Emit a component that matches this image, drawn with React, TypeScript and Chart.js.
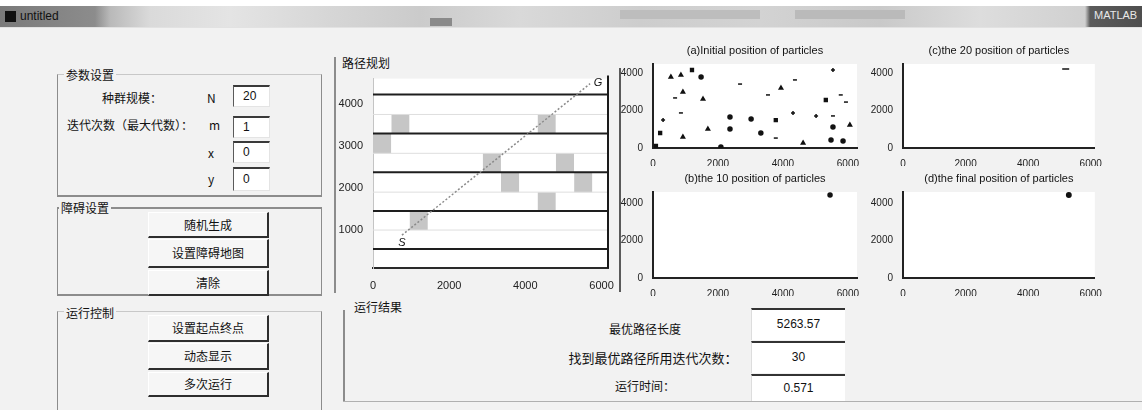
import React, { useEffect, useRef } from "react";
import { Chart, registerables } from "chart.js";

Chart.register(...registerables);

// ---------- main map (path planning) ----------
const mapXTicks = [0, 2000, 4000, 6000];
const mapYTicks = [1000, 2000, 3000, 4000];
const mapXMin = 0;
const mapXMax = 6170;
const mapYMin = 100;
const mapYMax = 4590;
const thickGridY = [551, 1449, 2370, 3291, 4213];
const thinGridY = [1000, 1898, 2819, 3740];
const obstacleX0 = [0, 480, 960, 2880, 3360, 4320, 4320, 4800, 5280];
const obstacleX1 = [480, 960, 1440, 3360, 3840, 4800, 4800, 5280, 5760];
const obstacleY0 = [2819, 3291, 1000, 2370, 1898, 3291, 1449, 2370, 1898];
const obstacleY1 = [3291, 3740, 1449, 2819, 2370, 3740, 1898, 2819, 2370];
const pathX = [760, 5700];
const pathY = [880, 4470];
const pathLabels = ["S", "G"];

// ---------- particle plots ----------
const particleXTicks = [0, 2000, 4000, 6000];
const particleYTicks = [0, 2000, 4000];
const initialX = [550, 860, 1200, 1480, 2680, 4370, 5540, 680, 920, 1540, 3540, 3940, 5320, 5780, 5940, 860, 310, 1690, 2370, 2370, 3020, 3780, 4310, 5020, 5540, 5540, 6060, 220, 920, 3320, 3780, 4620, 5480, 5850, 90, 2090];
const initialY = [3790, 3890, 4160, 3790, 3410, 3630, 4160, 2670, 2990, 2610, 2830, 3200, 2560, 2830, 2450, 1870, 1490, 1010, 1650, 1010, 1550, 1490, 1870, 1710, 1710, 1120, 1230, 800, 590, 800, 530, 270, 430, 370, 110, 50];
const initialMarkers = ["triangle", "triangle", "rect", "circle", "line", "line", "cross", "line", "triangle", "triangle", "line", "triangle", "rect", "line", "line", "line", "cross", "triangle", "circle", "circle", "circle", "rect", "cross", "cross", "line", "circle", "triangle", "rect", "triangle", "circle", "line", "triangle", "circle", "circle", "rect", "circle"];
const iter10X = [5450];
const iter10Y = [4430];
const iter20X = [5200];
const iter20Y = [4210];
const finalX = [5300];
const finalY = [4430];
const plotTitles = [
  "(a)Initial position of particles",
  "(b)the 10 position of particles",
  "(c)the 20 position of particles",
  "(d)the final position of particles",
];

const FONT = '"Liberation Sans", Arial, sans-serif';
const CJK = '"Noto Sans CJK SC", "Noto Sans", sans-serif';

const whiteArea = {
  id: "whiteArea",
  beforeDraw(chart: any) {
    const { ctx, chartArea } = chart;
    ctx.save();
    ctx.fillStyle = "#ffffff";
    ctx.fillRect(chartArea.left, chartArea.top, chartArea.right - chartArea.left, chartArea.bottom - chartArea.top);
    ctx.restore();
  },
};

function titlePlugin(text: string) {
  return {
    id: "smallTitle",
    afterDraw(chart: any) {
      const { ctx, chartArea } = chart;
      ctx.save();
      ctx.font = `11px ${FONT}`;
      ctx.fillStyle = "#111";
      ctx.textAlign = "center";
      ctx.textBaseline = "middle";
      ctx.fillText(text, (chartArea.left + chartArea.right) / 2, chartArea.top - 13);
      ctx.restore();
    },
  };
}

const mapFrame = {
  id: "mapFrame",
  afterDatasetsDraw(chart: any) {
    const { ctx, chartArea, scales } = chart;
    ctx.save();
    ctx.strokeStyle = "#1a1a1a";
    ctx.lineWidth = 2;
    ctx.beginPath();
    ctx.moveTo(chartArea.right, chartArea.top - 3);
    ctx.lineTo(chartArea.right, chartArea.bottom);
    ctx.stroke();
    ctx.font = `italic 11px ${FONT}`;
    ctx.fillStyle = "#111";
    ctx.textAlign = "center";
    ctx.textBaseline = "middle";
    const sx = scales.x.getPixelForValue(pathX[0]);
    const sy = scales.y.getPixelForValue(pathY[0]);
    ctx.fillText(pathLabels[0], sx, sy + 8);
    const gx = scales.x.getPixelForValue(pathX[1]);
    const gy = scales.y.getPixelForValue(pathY[1]);
    ctx.fillText(pathLabels[1], gx + 8, gy - 1);
    ctx.restore();
  },
};

function axisTicks(values: number[]) {
  return (s: any) => {
    s.ticks = values.map((v) => ({ value: v }));
  };
}

function mainConfig(): any {
  const datasets: any[] = [];
  datasets.push({
    data: [
      { x: pathX[0], y: pathY[0] },
      { x: pathX[1], y: pathY[1] },
    ],
    borderColor: "#8a8a8a",
    borderWidth: 1.5,
    borderDash: [2, 2],
    pointRadius: 0,
    fill: false,
    order: 0,
  });
  thickGridY.forEach((y) =>
    datasets.push({
      data: [
        { x: mapXMin, y },
        { x: mapXMax, y },
      ],
      borderColor: "#1e1e1e",
      borderWidth: 2,
      pointRadius: 0,
      fill: false,
      order: 1,
    })
  );
  thinGridY.forEach((y) =>
    datasets.push({
      data: [
        { x: mapXMin, y },
        { x: mapXMax, y },
      ],
      borderColor: "#dedede",
      borderWidth: 1,
      pointRadius: 0,
      fill: false,
      order: 2,
    })
  );
  obstacleX0.forEach((x0, i) =>
    datasets.push({
      data: [
        { x: x0, y: obstacleY1[i] },
        { x: obstacleX1[i], y: obstacleY1[i] },
      ],
      borderColor: "rgba(0,0,0,0)",
      borderWidth: 0,
      backgroundColor: "#c6c6c6",
      pointRadius: 0,
      fill: { value: obstacleY0[i] },
      order: 3,
    })
  );
  return {
    type: "line",
    data: { datasets },
    options: {
      animation: false,
      responsive: false,
      events: [],
      layout: { padding: { top: 8, right: 10, left: 0, bottom: 0 } },
      plugins: { legend: { display: false }, tooltip: { enabled: false } },
      scales: {
        x: {
          type: "linear",
          min: mapXMin,
          max: mapXMax,
          afterBuildTicks: axisTicks(mapXTicks),
          afterFit: (s: any) => {
            s.height = 24;
          },
          grid: { display: false },
          border: { display: true, color: "#2a2a2a", width: 2 },
          ticks: { color: "#222", font: { size: 11, family: FONT }, padding: 3, maxRotation: 0, autoSkip: false, callback: (v: any) => String(v) },
        },
        y: {
          type: "linear",
          min: mapYMin,
          max: mapYMax,
          afterBuildTicks: axisTicks(mapYTicks),
          afterFit: (s: any) => {
            s.width = 40;
          },
          grid: { display: false },
          border: { display: true, color: "#c4c4c4", width: 1 },
          ticks: { color: "#222", font: { size: 11, family: FONT }, padding: 2, autoSkip: false, callback: (v: any) => String(v) },
        },
      },
    },
    plugins: [whiteArea, mapFrame],
  };
}

function smallConfig(xs: number[], ys: number[], markers: any, title: string, xMax: number, yMax: number, radius: number): any {
  return {
    type: "scatter",
    data: {
      datasets: [
        {
          data: xs.map((x, i) => ({ x, y: ys[i] })),
          pointStyle: markers,
          pointRadius: radius,
          borderColor: "#111",
          backgroundColor: "#111",
          borderWidth: 1.5,
        },
      ],
    },
    options: {
      animation: false,
      responsive: false,
      events: [],
      layout: { padding: { top: 22, right: 7, left: 0, bottom: 0 } },
      plugins: { legend: { display: false }, tooltip: { enabled: false } },
      scales: {
        x: {
          type: "linear",
          min: 0,
          max: xMax,
          afterBuildTicks: axisTicks(particleXTicks),
          afterFit: (s: any) => {
            s.height = 18;
          },
          grid: { display: false },
          border: { display: true, color: "#222", width: 2 },
          ticks: { color: "#222", font: { size: 10, family: FONT }, padding: 2, maxRotation: 0, autoSkip: false, callback: (v: any) => String(v) },
        },
        y: {
          type: "linear",
          min: 0,
          max: yMax,
          afterBuildTicks: axisTicks(particleYTicks),
          afterFit: (s: any) => {
            s.width = 35;
          },
          grid: { display: false },
          border: { display: true, color: "#222", width: 2 },
          ticks: { color: "#222", font: { size: 10, family: FONT }, padding: 2, autoSkip: false, callback: (v: any) => String(v) },
        },
      },
    },
    plugins: [whiteArea, titlePlugin(title)],
  };
}

const abs = (left: number, top: number, width?: number, height?: number, extra: any = {}) => ({
  position: "absolute" as const,
  left,
  top,
  width,
  height,
  ...extra,
});

const editStyle = (left: number, top: number, w: number, h: number) =>
  abs(left, top, w, h, {
    background: "#fff",
    borderTop: "2px solid #3a3a3a",
    borderLeft: "1px solid #5a5a5a",
    borderRight: "1px solid #e4e4e4",
    borderBottom: "1px solid #e4e4e4",
    boxSizing: "border-box",
    font: `12px ${FONT}`,
    color: "#111",
    paddingLeft: 9,
    lineHeight: `${h - 3}px`,
  });

const buttonStyle = (left: number, top: number, w: number, h: number) =>
  abs(left, top, w, h, {
    background: "#f6f6f6",
    borderTop: "1px solid #ffffff",
    borderLeft: "1px solid #ffffff",
    borderRight: "2px solid #2e2e2e",
    borderBottom: "2px solid #2e2e2e",
    boxSizing: "border-box",
    font: `12px ${CJK}`,
    color: "#111",
    textAlign: "center",
    lineHeight: `${h - 3}px`,
  });

const panelTitle = (left: number, top: number, text: string) => (
  <div style={abs(left, top, undefined, undefined, { font: `12px ${CJK}`, color: "#111", background: "#f2f2f2", padding: "0 2px", whiteSpace: "nowrap" })}>{text}</div>
);

const lbl = (left: number, top: number, text: string, width?: number, align: string = "left", size: number = 12) => (
  <div style={abs(left, top, width, undefined, { font: `${size}px ${CJK}`, color: "#111", whiteSpace: "nowrap", textAlign: align })}>{text}</div>
);

export default function App() {
  const mainRef = useRef<HTMLCanvasElement>(null);
  const aRef = useRef<HTMLCanvasElement>(null);
  const bRef = useRef<HTMLCanvasElement>(null);
  const cRef = useRef<HTMLCanvasElement>(null);
  const dRef = useRef<HTMLCanvasElement>(null);

  useEffect(() => {
    document.body.style.margin = "0";
    const charts: Chart[] = [];
    charts.push(new Chart(mainRef.current as any, mainConfig()));
    charts.push(new Chart(aRef.current as any, smallConfig(initialX, initialY, initialMarkers, plotTitles[0], 6280, 4480, 2)));
    charts.push(new Chart(bRef.current as any, smallConfig(iter10X, iter10Y, "circle", plotTitles[1], 6280, 4590, 2)));
    charts.push(new Chart(cRef.current as any, smallConfig(iter20X, iter20Y, "line", plotTitles[2], 6130, 4480, 3.5)));
    charts.push(new Chart(dRef.current as any, smallConfig(finalX, finalY, "circle", plotTitles[3], 6130, 4590, 2.2)));
    return () => charts.forEach((c) => c.destroy());
  }, []);

  const canvasAt = (ref: any, left: number, top: number, w: number, h: number) => (
    <canvas ref={ref} width={w} height={h} style={abs(left, top, w, h, { display: "block" })} />
  );

  return (
    <div style={{ position: "fixed", left: 0, top: 0, width: 1142, height: 410, overflow: "hidden", background: "#f2f2f2", fontFamily: FONT }}>
      {/* window title bar */}
      <div style={abs(0, 0, 1142, 6, { background: "#ffffff" })} />
      <div
        style={abs(0, 6, 1142, 21, {
          background:
            "linear-gradient(90deg, #7a7a7a 0px, #8c8c8c 95px, #b9b9b9 110px, #dadada 150px, #e4e4e4 230px, #d6d6d6 330px, #cbcbcb 420px, #d9d9d9 520px, #cdcdcd 640px, #d3d3d3 760px, #c9c9c9 880px, #dddddd 980px, #d0d0d0 1085px, #5b5b5b 1090px, #4e4e4e 1142px)",
        })}
      />
      <div style={abs(5, 11, 11, 11, { background: "#111" })} />
      <div style={abs(20, 9, undefined, undefined, { font: `12px ${FONT}`, color: "#111" })}>untitled</div>
      <div style={abs(430, 18, 22, 8, { background: "#8a8a8a" })} />
      <div style={abs(620, 10, 140, 9, { background: "#bdbdbd" })} />
      <div style={abs(795, 10, 110, 9, { background: "#bababa" })} />
      <div style={abs(1094, 9, undefined, undefined, { font: `11px ${FONT}`, color: "#e8e8e8", whiteSpace: "nowrap" })}>MATLAB</div>
      <div style={abs(0, 27, 1142, 1, { background: "#e2e2e2" })} />

      {/* panel 1: 参数设置 */}
      <div style={abs(57, 74, 265, 123, { borderLeft: "1px solid #8c8c8c", borderRight: "1px solid #8c8c8c", borderBottom: "2px solid #8c8c8c", borderTop: "1px solid #c8c8c8", boxSizing: "border-box" })} />
      {panelTitle(64, 66, "参数设置")}
      {lbl(102, 89, "种群规模：")}
      {lbl(207, 89, "N")}
      {lbl(67, 116, "迭代次数（最大代数）：")}
      {lbl(209, 116, "m")}
      {lbl(208, 144, "x")}
      {lbl(208, 170, "y")}
      <div style={editStyle(233, 85, 37, 22)}>20</div>
      <div style={editStyle(233, 116, 37, 22)}>1</div>
      <div style={editStyle(233, 141, 37, 22)}>0</div>
      <div style={editStyle(233, 167, 37, 24)}>0</div>

      {/* panel 2: 障碍设置 */}
      <div style={abs(57, 207, 265, 89, { borderLeft: "1px solid #8c8c8c", borderRight: "1px solid #8c8c8c", borderBottom: "2px solid #8c8c8c", borderTop: "2px solid #8c8c8c", boxSizing: "border-box" })} />
      {panelTitle(59, 199, "障碍设置")}
      <div style={buttonStyle(148, 212, 121, 26)}>随机生成</div>
      <div style={buttonStyle(148, 239, 121, 29)}>设置障碍地图</div>
      <div style={buttonStyle(148, 270, 121, 26)}>清除</div>

      {/* panel 3: 运行控制 */}
      <div style={abs(57, 311, 265, 110, { borderLeft: "1px solid #8c8c8c", borderRight: "1px solid #8c8c8c", borderTop: "1px solid #c8c8c8", boxSizing: "border-box" })} />
      {panelTitle(64, 304, "运行控制")}
      <div style={buttonStyle(148, 315, 121, 27)}>设置起点终点</div>
      <div style={buttonStyle(148, 343, 121, 27)}>动态显示</div>
      <div style={buttonStyle(148, 372, 121, 25)}>多次运行</div>

      {/* map panel */}
      <div style={abs(334, 57, 2, 236, { background: "#8c8c8c" })} />
      {panelTitle(340, 54, "路径规划")}
      <div style={abs(619, 68, 2, 224, { background: "#5a5a5a" })} />

      {/* result panel */}
      <div style={abs(343, 310, 2, 92, { background: "#8c8c8c" })} />
      <div style={abs(343, 401, 799, 1, { background: "#b0b0b0" })} />
      {panelTitle(352, 298, "运行结果")}
      {lbl(545, 320, "最优路径长度", 200, "center")}
      {lbl(548, 348, "找到最优路径所用迭代次数：", 210, "center", 13)}
      {lbl(545, 377, "运行时间：", 200, "center")}
      <div style={abs(751, 308, 94, 32, { background: "#fff", borderTop: "2px solid #333", borderLeft: "1px solid #ddd", boxSizing: "border-box", font: `12px ${FONT}`, textAlign: "center", lineHeight: "28px", color: "#111" })}>5263.57</div>
      <div style={abs(751, 341, 94, 32, { background: "#fff", borderTop: "2px solid #333", borderLeft: "1px solid #ddd", boxSizing: "border-box", font: `12px ${FONT}`, textAlign: "center", lineHeight: "28px", color: "#111" })}>30</div>
      <div style={abs(751, 374, 94, 27, { background: "#fff", borderTop: "2px solid #333", borderLeft: "1px solid #ddd", boxSizing: "border-box", font: `12px ${FONT}`, textAlign: "center", lineHeight: "24px", color: "#111" })}>0.571</div>

      {/* charts */}
      {canvasAt(mainRef, 333, 70, 285, 222)}
      {canvasAt(aRef, 618, 42, 246, 124)}
      {canvasAt(bRef, 618, 170, 246, 126)}
      {canvasAt(cRef, 868, 42, 236, 124)}
      {canvasAt(dRef, 868, 170, 236, 126)}
    </div>
  );
}
